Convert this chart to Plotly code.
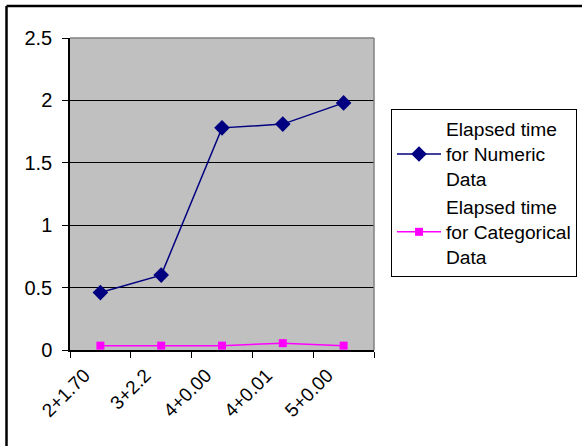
import plotly.graph_objects as go

categories = ["2+1.70", "3+2.2", "4+0.00", "4+0.01", "5+0.00"]
numeric_time = [0.46, 0.60, 1.78, 1.81, 1.98]
categorical_time = [0.035, 0.035, 0.035, 0.055, 0.035]
series_names = ["Elapsed time<br>for Numeric<br>Data", "Elapsed time<br>for Categorical<br>Data"]
y_ticks = [0, 0.5, 1, 1.5, 2, 2.5]
y_tick_text = ["0", "0.5", "1", "1.5", "2", "2.5"]

W, H = 582, 446
L, R, T, B = 70, 208, 38, 96
pw, ph = W - L - R, H - T - B

def px_x(p):
    return (p - L) / pw

def px_y(p):
    return (H - B - p) / ph

font = "Liberation Sans, Arial, sans-serif"

fig = go.Figure()
fig.add_trace(go.Scatter(
    x=categories, y=numeric_time, name=series_names[0], mode="lines+markers",
    line=dict(color="#000080", width=1.5),
    marker=dict(symbol="diamond", size=12, color="#000080"),
))
fig.add_trace(go.Scatter(
    x=categories, y=categorical_time, name=series_names[1], mode="lines+markers",
    line=dict(color="#FF00FF", width=1.5),
    marker=dict(symbol="square", size=8, color="#FF00FF"),
))

fig.update_layout(
    width=W, height=H,
    margin=dict(l=L, r=R, t=T, b=B, autoexpand=False),
    paper_bgcolor="white",
    plot_bgcolor="#C0C0C0",
    font=dict(family=font, size=19.5, color="black"),
    showlegend=True,
    legend=dict(
        x=px_x(391), y=px_y(109), xanchor="left", yanchor="top",
        bordercolor="black", borderwidth=1, bgcolor="white",
        font=dict(family=font, size=19.2, color="black"),
        tracegroupgap=2, itemwidth=44,
    ),
    xaxis=dict(
        type="category", range=[-0.5, 4.5], tickson="boundaries",
        ticks="outside", ticklen=6, tickcolor="black", tickwidth=1,
        showline=True, linecolor="black", linewidth=1.5,
        showgrid=False, tickangle=-45,
        ticklabelshift=-16, ticklabelstandoff=5,
        tickfont=dict(family=font, size=19, color="black"),
    ),
    yaxis=dict(
        range=[0, 2.5], tickvals=y_ticks, ticktext=y_tick_text,
        ticks="outside", ticklen=6, tickcolor="black", tickwidth=1,
        showline=True, linecolor="black", linewidth=1.5,
        showgrid=True, gridcolor="black", gridwidth=1.2,
        zeroline=False, ticklabelstandoff=6,
        tickfont=dict(family=font, size=20, color="black"),
    ),
    shapes=[
        dict(type="line", xref="paper", yref="paper", x0=0, x1=1, y0=1, y1=1,
             line=dict(color="#808080", width=1.5), layer="above"),
        dict(type="line", xref="paper", yref="paper", x0=1, x1=1, y0=0, y1=1,
             line=dict(color="#808080", width=1.5), layer="above"),
        dict(type="line", xref="paper", yref="paper",
             x0=px_x(6.5), x1=px_x(600), y0=px_y(6), y1=px_y(6),
             line=dict(color="black", width=2.5), layer="above"),
        dict(type="line", xref="paper", yref="paper",
             x0=px_x(6.5), x1=px_x(6.5), y0=px_y(6), y1=px_y(460),
             line=dict(color="black", width=2.5), layer="above"),
    ],
)

fig.write_html(
    "out.html",
    config={"displayModeBar": False},
    post_script="document.body.style.margin='0';document.body.style.overflow='hidden';",
)
